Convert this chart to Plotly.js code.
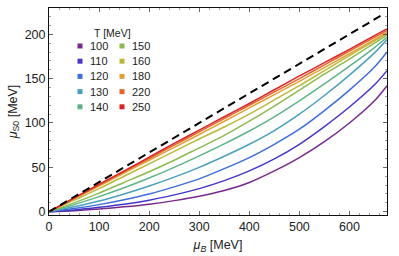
<!DOCTYPE html>
<html><head><meta charset="utf-8">
<script src="https://cdn.plot.ly/plotly-3.0.1.min.js"></script>
<style>html,body{margin:0;padding:0;background:#fff}#chart{width:399px;height:256px}</style>
</head><body><div id="chart"></div>
<script>
// mu_B grid [MeV]
const muB = [0, 50, 100, 150, 200, 250, 300, 350, 400, 450, 500, 550, 600, 650, 675];
// temperatures [MeV]
const temps = [100, 110, 120, 130, 140, 150, 160, 180, 220, 250];
// mu_S0 [MeV] for each temperature
const muS_T100 = [0, 1, 3, 5.5, 8.5, 12.5, 17.5, 24, 33, 46, 61, 79, 100, 125, 142];
const muS_T110 = [0, 2, 5, 8.5, 13, 19, 26, 35, 46, 59.5, 76, 96, 118, 143, 159];
const muS_T120 = [0, 3.5, 8, 13.5, 20, 28, 37, 48.5, 61, 76, 93, 114, 137, 163, 180];
const muS_T130 = [0, 5.5, 12, 20, 29, 39, 50, 62.5, 76, 91.5, 110, 131, 154, 179, 194];
const muS_T140 = [0, 8, 17, 27, 38, 50, 63, 76.5, 91, 107, 125, 144, 164, 185, 196.5];
const muS_T150 = [0, 10, 21, 33, 45, 58, 72, 86, 102, 119, 137, 155, 172, 190, 199];
const muS_T160 = [0, 13, 26, 40, 54, 68, 82, 95.5, 110, 126, 142, 159, 176, 192.5, 201];
const muS_T180 = [0, 14.5, 29, 43.5, 58, 72.5, 87, 102, 117, 132, 147, 162.5, 178, 194, 202];
const muS_T220 = [0, 15, 30, 45, 60, 75, 90, 105, 120, 135, 150, 165.5, 181, 196.5, 204];
const muS_T250 = [0, 15.5, 31, 46, 61.5, 77, 92, 107, 122, 137.5, 153, 168, 183, 198.5, 206];
const series = [muS_T100, muS_T110, muS_T120, muS_T130, muS_T140, muS_T150, muS_T160, muS_T180, muS_T220, muS_T250];
const colors = ['#782a8c', '#4436c8', '#3f6ed8', '#4a9fbf', '#5fb38a', '#8dbb4f', '#bcb83a', '#e2a035', '#e2662b', '#d8252a'];
// reference line mu_S = mu_B/3
const dashX = [0, 662];
const dashY = [0, 220.7];

const FONT = 'Liberation Sans, Arial, sans-serif';
const traces = series.map((ys, i) => ({
  x: muB, y: ys, type: 'scatter', mode: 'lines',
  line: {color: colors[i], width: 1.5, shape: 'spline', smoothing: 0.8},
  name: temps[i] + '', showlegend: false, hoverinfo: 'skip'
}));
traces.push({x: dashX, y: dashY, type: 'scatter', mode: 'lines',
  line: {color: '#000', width: 2, dash: '8px,5px'}, showlegend: false, hoverinfo: 'skip'});

// custom two-column legend
const L = 49, R = 387, T = 8, B = 215;
const px = x => (x - L) / (R - L);
const py = y => (B - y) / (B - T);
const shapes = [], annotations = [];
annotations.push({xref: 'paper', yref: 'paper', x: px(112), y: py(33), text: 'T [MeV]',
  showarrow: false, xanchor: 'center', yanchor: 'middle', font: {family: FONT, size: 10.5, color: '#222'}});
temps.forEach((t, i) => {
  const col = i < 5 ? 0 : 1, row = i % 5;
  const cx = col ? 122 : 80, cy = 46 + row * 15.2;
  shapes.push({type: 'rect', xref: 'paper', yref: 'paper', xsizemode: 'pixel', ysizemode: 'pixel',
    xanchor: px(cx), yanchor: py(cy), x0: -2.5, x1: 2.5, y0: -2.5, y1: 2.5,
    fillcolor: colors[i], line: {width: 0}});
  annotations.push({xref: 'paper', yref: 'paper', x: px(cx + 8), y: py(cy), text: t + '',
    showarrow: false, xanchor: 'left', yanchor: 'middle', font: {family: FONT, size: 11, color: '#222'}});
});

const axisCommon = {
  showgrid: false, zeroline: false, showline: true, linecolor: '#111', linewidth: 1,
  mirror: 'ticks', ticks: 'inside', ticklen: 4, tickcolor: '#444', tickwidth: 0.8,
  tickfont: {family: FONT, size: 12.5, color: '#222'},
};
const layout = {
  width: 399, height: 256,
  margin: {l: L, r: 399 - R, t: T, b: 256 - B},
  paper_bgcolor: '#fff', plot_bgcolor: '#fff',
  showlegend: false,
  xaxis: Object.assign({}, axisCommon, {
    range: [0, 675], dtick: 100, tick0: 0,
    minor: {dtick: 20, ticks: 'inside', ticklen: 2, tickcolor: '#666', tickwidth: 0.6},
    title: {text: '<i>μ</i><sub><i>B</i></sub> [MeV]', font: {family: FONT, size: 12.5, color: '#222'}, standoff: 7}
  }),
  yaxis: Object.assign({}, axisCommon, {
    range: [-3.7, 229.6], dtick: 50, tick0: 0,
    minor: {dtick: 10, ticks: 'inside', ticklen: 2, tickcolor: '#666', tickwidth: 0.6},
    title: {text: '<i>μ</i><sub>S0</sub> [MeV]', font: {family: FONT, size: 12.5, color: '#222'}, standoff: 4}
  }),
  shapes: shapes, annotations: annotations
};
Plotly.newPlot('chart', traces, layout, {staticPlot: true, displayModeBar: false});
</script>
</body></html>
